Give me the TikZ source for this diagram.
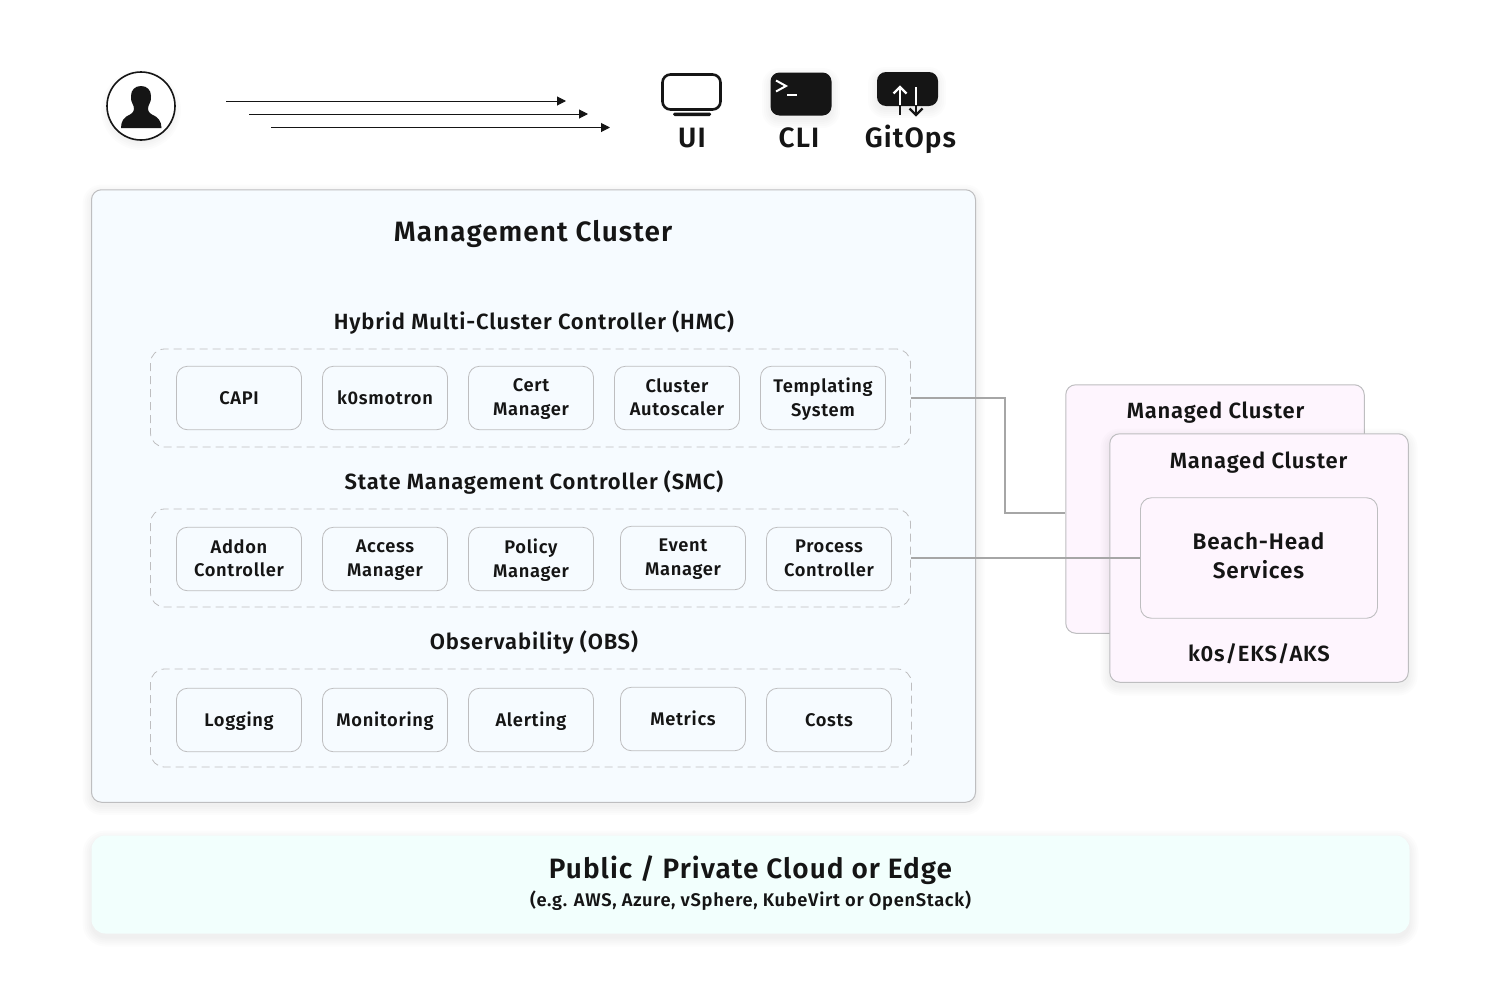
\documentclass[tikz,border=0pt]{standalone}
\usepackage{fontspec}
\setmainfont{Fira Sans}[UprightFont=* Medium,BoldFont=* SemiBold,LetterSpace=3.7]
\usetikzlibrary{arrows.meta,calc}
\definecolor{ink}{HTML}{151515}
\definecolor{edge}{HTML}{BEBEC0}
\definecolor{wire}{HTML}{A6A6A6}
\definecolor{mgmt}{HTML}{F6FBFF}
\definecolor{pinkf}{HTML}{FEF5FE}
\definecolor{mint}{HTML}{F2FFFD}
\newcommand{\softshadow}[5]{% x1,y1,x2,y2,radius
  \foreach \s in {9,7,5,3,1}{
    \fill[black,opacity=0.011,rounded corners=#5+\s*1pt]
      (#1-\s,#2-\s+4) rectangle (#3+\s,#4+\s+4);}
}
\newcommand{\fs}[1]{\fontsize{#1}{#1}\selectfont}
\tikzset{
  x=1pt,y=-1pt,
  card/.style 2 args={draw=edge,line width=1pt,rounded corners=10pt,inner sep=0pt,minimum width=#1,minimum height=#2},
  comp/.style={draw=edge,line width=0.8pt,fill=mgmt,rounded corners=11pt,inner sep=0pt,
    minimum width=125pt,minimum height=63.5pt,align=center,text=ink,font=\fs{18.3}\bfseries,text depth=2pt},
  compone/.style={comp,align=none,text height=17.5pt,text depth=4pt},
  group/.style={draw=edge,line width=0.8pt,dash pattern=on 8pt off 5pt,rounded corners=14pt,inner sep=0pt,minimum width=760pt,minimum height=98pt},
  heading/.style={text=ink,inner sep=0pt,anchor=base,align=center,font=\fs{22}\bfseries},
  connector/.style={draw=wire,line width=2pt},
  flow/.style={draw=ink,line width=1pt,-{Triangle[length=9pt,width=9pt]}},
}
\begin{document}
\begin{tikzpicture}
\useasboundingbox (0,0) rectangle (1486,1004);
\fill[white] (0,0) rectangle (1486,1004);

% person
\softshadow{110}{75}{172}{137}{31}
\node[circle,draw=ink,line width=1.6pt,fill=white,minimum size=68pt,inner sep=0pt] (user) at (141,106) {};
\fill[ink] (141,86) .. controls (147,86) and (151,90) .. (151,96)
  .. controls (151.5,101) and (149.5,103) .. (148.5,106) .. controls (147,110) and (149,113) .. (152,114.5)
  .. controls (158,117) and (161.5,121) .. (161.5,128) -- (121,128)
  .. controls (121,121) and (124,117) .. (130,114.5) .. controls (133,113) and (135,110) .. (133.5,106)
  .. controls (132.5,103) and (130.5,101) .. (131,96) .. controls (131,90) and (135,86) .. (141,86) -- cycle;

% flows
\coordinate (a1s) at (226,101); \coordinate (a1e) at (566,101);
\coordinate (a2s) at (249,114); \coordinate (a2e) at (588,114);
\coordinate (a3s) at (271,127.5); \coordinate (a3e) at (610,127.5);
\draw[flow] (a1s) -- (a1e);
\draw[flow] (a2s) -- (a2e);
\draw[flow] (a3s) -- (a3e);

% UI icon
\node[draw=ink,line width=2.6pt,fill=white,rounded corners=8pt,minimum width=58pt,minimum height=35pt,inner sep=0pt] (ui) at (691.5,92) {};
\fill[ink,rounded corners=1.5pt] (673,112.5) rectangle (711,116);
\node[heading,font=\fs{28}\bfseries] (uit) at (692,147) {UI};

% CLI icon
\softshadow{771}{73}{831}{115}{8}
\node[fill=ink,rounded corners=9pt,minimum width=61pt,minimum height=43pt,inner sep=0pt] (cli) at (801,94) {};
\draw[white,line width=2pt] (776,80.5) -- (786,86) -- (776,91.5);
\draw[white,line width=1.8pt] (787,95) -- (797,95);
\node[heading,font=\fs{28}\bfseries] (clit) at (799,147) {CLI};

% GitOps icon
\softshadow{877}{72}{937}{105}{8}
\node[fill=ink,rounded corners=9pt,minimum width=61pt,minimum height=34pt,inner sep=0pt] (git) at (907.5,89) {};
\coordinate (up1) at (900,115); \coordinate (up2) at (900,87);
\coordinate (dn1) at (916,87); \coordinate (dn2) at (916,115);
\draw[ink,line width=2.2pt] (up1) -- (900,105);
\draw[ink,line width=2.2pt] (916,105) -- (dn2);
\draw[ink,line width=2.2pt] (909.5,108.5) -- (dn2) -- (922.5,108.5);
\draw[white,line width=2.2pt] (900,105) -- (up2);
\draw[white,line width=2.2pt] (893.5,93.5) -- (up2) -- (906.5,93.5);
\draw[white,line width=2.2pt] (dn1) -- (916,105);
\node[heading,font=\fs{28}\bfseries] (gitt) at (910.5,147) {GitOps};

% management cluster
\softshadow{91.5}{189.5}{975.5}{802}{10}
\node[card={884pt}{612.5pt},fill=mgmt] (mgmtc) at (533.5,496) {};
\node[heading,font=\fs{28}\bfseries] (mgmtt) at (533,241) {Management Cluster};

\node[heading] (hmct) at (534,329) {Hybrid Multi-Cluster Controller (HMC)};
\node[group] (hmc) at (530.5,398) {};
\node[compone] (capi) at (239,398) {CAPI};
\node[compone] (k0s) at (385,398) {k0smotron};
\node[comp] (cert) at (531,398) {Cert\\[5.5pt]Manager};
\node[comp] (auto) at (677,398) {Cluster\\[5.5pt]Autoscaler};
\node[comp] (tmpl) at (823,398) {Templating\\[5.5pt]System};

\node[heading] (smct) at (534,489) {State Management Controller (SMC)};
\node[group] (smc) at (530.5,558) {};
\node[comp] (addon) at (239,559) {Addon\\[5.5pt]Controller};
\node[comp] (access) at (385,559) {Access\\[5.5pt]Manager};
\node[comp] (policy) at (531,559) {Policy\\[5.5pt]Manager};
\node[comp] (event) at (683,558) {Event\\[5.5pt]Manager};
\node[comp] (proc) at (829,559) {Process\\[5.5pt]Controller};

\node[heading] (obst) at (534,649) {Observability (OBS)};
\node[group,minimum width=761pt] (obs) at (531,718) {};
\node[compone] (log) at (239,720) {Logging};
\node[compone] (mon) at (385,720) {Monitoring};
\node[compone] (alert) at (531,720) {Alerting};
\node[compone] (met) at (683,719) {Metrics};
\node[compone] (cost) at (829,720) {Costs};

% managed clusters
\node[card={298.5pt}{248.5pt},fill=pinkf] (mcb) at (1215,509) {};
\node[heading] (mcbt) at (1215.5,418) {Managed Cluster};
\softshadow{1109.5}{433.5}{1408.5}{682.5}{10}
\node[card={298.5pt}{248.5pt},fill=pinkf] (mcf) at (1259,558) {};
\node[heading] (mcft) at (1258.5,468) {Managed Cluster};
\node[draw=edge,line width=0.9pt,fill=pinkf,rounded corners=11pt,minimum width=237pt,minimum height=120.5pt,inner sep=0pt] (beach) at (1259,558) {};
\node[heading,font=\fs{22.5}\bfseries] (bt1) at (1258.5,549) {Beach-Head};
\node[heading,font=\fs{22.5}\bfseries] (bt2) at (1258.5,578) {Services};
\node[heading] (k0t) at (1259,661) {k0s/EKS/AKS};

% connectors
\coordinate (mcin) at (mcb.west |- 0,513);
\draw[connector] (hmc.east) -- (1005,398) -- (1005,513) -- (mcin);
\draw[connector] (smc.east) -- (beach.west);

% cloud
\softshadow{91.5}{835.5}{1409.5}{933.5}{14}
\node[fill=mint,rounded corners=14pt,minimum width=1318pt,minimum height=98pt,inner sep=0pt] (cloud) at (750.5,884.5) {};
\node[heading,font=\fs{28}\bfseries] (cl1) at (750.5,878) {Public / Private Cloud or Edge};
\node[heading,font=\fs{18.3}\bfseries] (cl2) at (750.5,906) {(e.g. AWS, Azure, vSphere, KubeVirt or OpenStack)};
\end{tikzpicture}
\end{document}
